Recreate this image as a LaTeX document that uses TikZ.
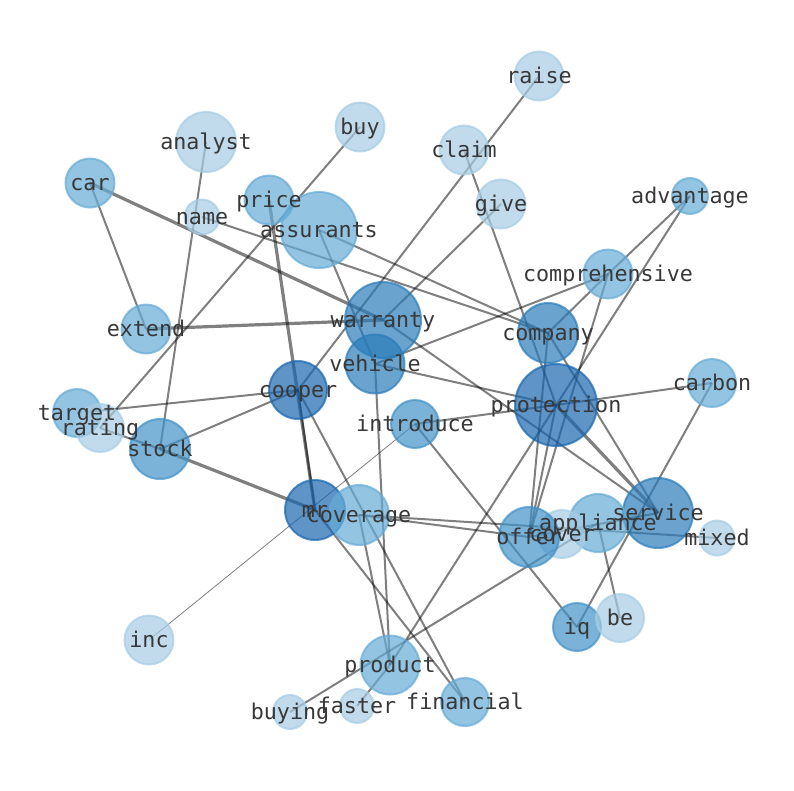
\documentclass[tikz,border=0pt]{standalone}
\usepackage{fontspec}
\usetikzlibrary{positioning}
\newfontfamily\wordfont{DejaVu Sans Mono}
\definecolor{paleblue}{RGB}{166,204,228}
\definecolor{midblue}{RGB}{101,171,214}
\definecolor{deepblue}{RGB}{65,145,199}
\definecolor{darkblue}{RGB}{42,124,185}
\definecolor{nightblue}{RGB}{25,102,174}
\pgfdeclarelayer{edges}
\pgfdeclarelayer{words}
\pgfsetlayers{edges,main,words}
\tikzset{
    %Define style for word circles
    bubble/.style={
           circle,
           inner sep=0pt,
           line width=2pt,
           fill opacity=0.7,
           draw opacity=0.7},
    pale/.style={bubble, fill=paleblue, draw=paleblue},
    mid/.style={bubble, fill=midblue, draw=midblue},
    deep/.style={bubble, fill=deepblue, draw=deepblue},
    dark/.style={bubble, fill=darkblue, draw=darkblue},
    night/.style={bubble, fill=nightblue, draw=nightblue},
    %Define style for labels
    word/.style={
           font=\wordfont\fontsize{21.7}{24}\selectfont,
           text=black!78,
           text height=18pt,
           text depth=3.5pt,
           inner sep=0pt},
    % Define line styles
    link/.style={
           draw=black,
           draw opacity=0.5,
           line width=2pt},
    heavy/.style={link, line width=3.2pt},
    faint/.style={link, line width=0.8pt}
}

\begin{document}
\begin{tikzpicture}[x=1pt, y=-1pt]
\useasboundingbox (0,0) rectangle (794,790);

%nodes
\node[pale, minimum size=49] (raise) at (539,76) {};
\node[pale, minimum size=49] (buy) at (360,127) {};
\node[pale, minimum size=60] (analyst) at (206,142) {};
\node[pale, minimum size=49] (claim) at (464,150) {};
\node[mid, minimum size=49] (car) at (90,183) {};
\node[mid, minimum size=36] (advantage) at (690,196) {};
\node[pale, minimum size=49] (give) at (501,204) {};
\node[pale, minimum size=35] (name) at (202,217) {};
\node[mid, minimum size=49] (price) at (269,200) {};
\node[mid, minimum size=76] (assurants) at (319,230) {};
\node[mid, minimum size=49] (comprehensive) at (608,274) {};
\node[dark, minimum size=76] (warranty) at (383,320) {};
\node[mid, minimum size=49] (extend) at (146,329) {};
\node[dark, minimum size=60] (company) at (548,333) {};
\node[dark, minimum size=59] (vehicle) at (375,364) {};
\node[night, minimum size=58] (cooper) at (298,390) {};
\node[mid, minimum size=48] (carbon) at (712,383) {};
\node[night, minimum size=82] (protection) at (556,405) {};
\node[mid, minimum size=48] (target) at (77,413) {};
\node[pale, minimum size=48] (rating) at (100,428) {};
\node[deep, minimum size=48] (introduce) at (415,424) {};
\node[deep, minimum size=60] (stock) at (160,449) {};
\node[night, minimum size=60] (mr) at (315,510) {};
\node[mid, minimum size=60] (coverage) at (359,515) {};
\node[dark, minimum size=70] (service) at (658,513) {};
\node[mid, minimum size=58] (appliance) at (598,523) {};
\node[pale, minimum size=48] (cover) at (562,534) {};
\node[deep, minimum size=60] (offer) at (529,537) {};
\node[pale, minimum size=35] (mixed) at (717,538) {};
\node[deep, minimum size=48] (iq) at (577,627) {};
\node[pale, minimum size=48] (be) at (620,618) {};
\node[pale, minimum size=49] (inc) at (149,640) {};
\node[mid, minimum size=59] (product) at (390,665) {};
\node[mid, minimum size=48] (financial) at (465,702) {};
\node[pale, minimum size=34] (buying) at (290,712) {};
\node[pale, minimum size=34] (faster) at (357,706) {};

%connections
\begin{pgfonlayer}{edges}
\draw[link] (car.center) -- (extend.center);
\draw[heavy] (car.center) -- (warranty.center);
\draw[heavy] (extend.center) -- (warranty.center);
\draw[link] (analyst.center) -- (stock.center);
\draw[link] (buy.center) -- (rating.center);
\draw[heavy] (price.center) -- (mr.center);
\draw[link] (cooper.center) -- (mr.center);
\draw[link] (name.center) -- (company.center);
\draw[link] (assurants.center) -- (company.center);
\draw[link] (assurants.center) -- (vehicle.center);
\draw[link] (raise.center) -- (cooper.center);
\draw[link] (claim.center) -- (protection.center);
\draw[link] (give.center) -- (warranty.center);
\draw[link] (advantage.center) -- (comprehensive.center);
\draw[link] (advantage.center) -- (product.center);
\draw[link] (comprehensive.center) -- (company.center);
\draw[link] (comprehensive.center) -- (vehicle.center);
\draw[link] (comprehensive.center) -- (offer.center);
\draw[link] (company.center) -- (service.center);
\draw[link] (company.center) -- (offer.center);
\draw[link] (vehicle.center) -- (protection.center);
\draw[link] (vehicle.center) -- (product.center);
\draw[link] (introduce.center) -- (protection.center);
\draw[faint] (introduce.center) -- (inc.center);
\draw[link] (introduce.center) -- (iq.center);
\draw[link] (protection.center) -- (carbon.center);
\draw[heavy] (protection.center) -- (service.center);
\draw[link] (protection.center) -- (offer.center);
\draw[link] (warranty.center) -- (service.center);
\draw[link] (carbon.center) -- (iq.center);
\draw[link] (cooper.center) -- (target.center);
\draw[link] (cooper.center) -- (stock.center);
\draw[link] (cooper.center) -- (financial.center);
\draw[link] (rating.center) -- (stock.center);
\draw[heavy] (stock.center) -- (mr.center);
\draw[link] (mr.center) -- (financial.center);
\draw[link] (coverage.center) -- (product.center);
\draw[link] (coverage.center) -- (offer.center);
\draw[link] (coverage.center) -- (mixed.center);
\draw[link] (offer.center) -- (service.center);
\draw[link] (appliance.center) -- (be.center);
\draw[link] (buying.center) -- (appliance.center);
\draw[link] (faster.center) -- (product.center);
\end{pgfonlayer}

%labels
\begin{pgfonlayer}{words}
\node[word] (raise-w) at (raise) {raise};
\node[word] (buy-w) at (buy) {buy};
\node[word] (analyst-w) at (analyst) {analyst};
\node[word] (claim-w) at (claim) {claim};
\node[word] (car-w) at (car) {car};
\node[word] (advantage-w) at (advantage) {advantage};
\node[word] (give-w) at (give) {give};
\node[word] (name-w) at (name) {name};
\node[word] (price-w) at (price) {price};
\node[word] (assurants-w) at (assurants) {assurants};
\node[word] (comprehensive-w) at (comprehensive) {comprehensive};
\node[word] (warranty-w) at (warranty) {warranty};
\node[word] (extend-w) at (extend) {extend};
\node[word] (company-w) at (company) {company};
\node[word] (vehicle-w) at (vehicle) {vehicle};
\node[word] (cooper-w) at (cooper) {cooper};
\node[word] (carbon-w) at (carbon) {carbon};
\node[word] (protection-w) at (protection) {protection};
\node[word] (target-w) at (target) {target};
\node[word] (rating-w) at (rating) {rating};
\node[word] (introduce-w) at (introduce) {introduce};
\node[word] (stock-w) at (stock) {stock};
\node[word] (mr-w) at (mr) {mr};
\node[word] (coverage-w) at (coverage) {coverage};
\node[word] (service-w) at (service) {service};
\node[word] (appliance-w) at (appliance) {appliance};
\node[word] (cover-w) at (cover) {cover};
\node[word] (offer-w) at (offer) {offer};
\node[word] (mixed-w) at (mixed) {mixed};
\node[word] (iq-w) at (iq) {iq};
\node[word] (be-w) at (be) {be};
\node[word] (inc-w) at (inc) {inc};
\node[word] (product-w) at (product) {product};
\node[word] (financial-w) at (financial) {financial};
\node[word] (buying-w) at (buying) {buying};
\node[word] (faster-w) at (faster) {faster};
\end{pgfonlayer}

\end{tikzpicture}
\end{document}
